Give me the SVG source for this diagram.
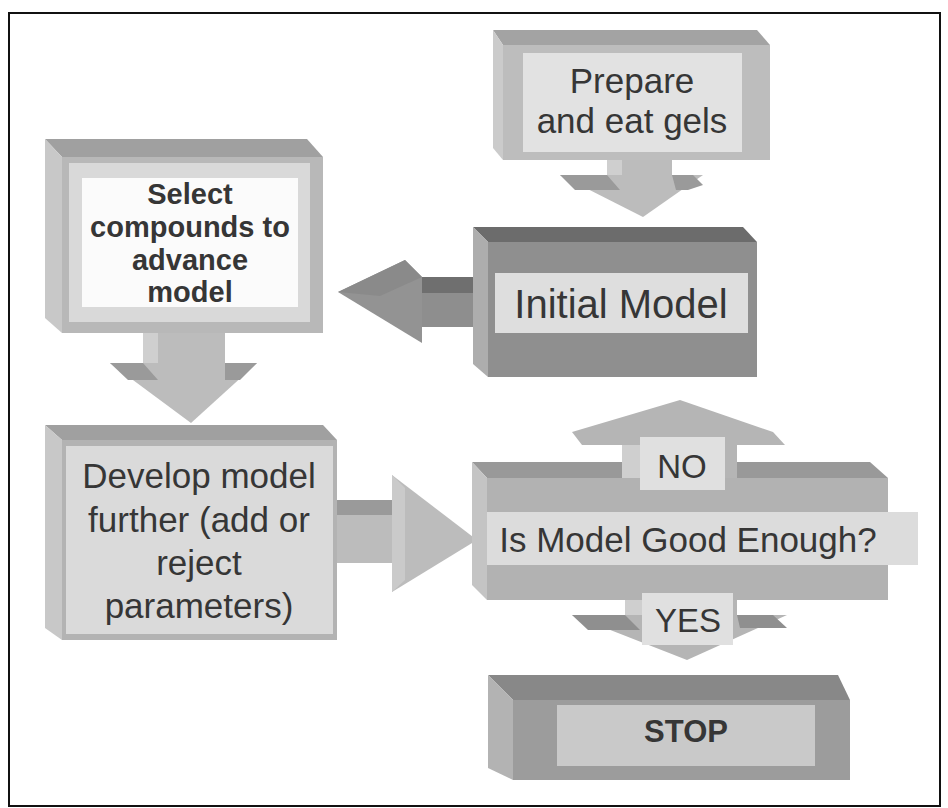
<svg xmlns="http://www.w3.org/2000/svg" width="948" height="808" viewBox="0 0 948 808">
<style>
text{font-family:"Liberation Sans",Arial,sans-serif;fill:#363636;text-anchor:middle}
.b{font-weight:bold}
</style>
<rect x="0" y="0" width="948" height="808" fill="#ffffff"/>
<rect x="9" y="13" width="931" height="793" fill="none" stroke="#111" stroke-width="2"/>

<g id="connectors">
  <!-- Prepare -> Initial Model -->
  <g id="arrow-prepare-initial">
    <rect x="607" y="158" width="15" height="18" fill="#cfcfcf"/>
    <rect x="622" y="158" width="50" height="18" fill="#bcbcbc"/>
    <polygon points="560,175 703,175 643,217" fill="#bcbcbc"/>
    <polygon points="560,175 607,175 620,190 575,190" fill="#9a9a9a"/>
    <polygon points="672,175 693,175 703,185 688,190 676,190" fill="#9a9a9a"/>
  </g>
  <!-- Initial Model -> Select -->
  <g id="arrow-initial-select">
    <polygon points="422,277 474,277 488,293 422,293" fill="#6f6f6f"/>
    <rect x="422" y="293" width="66" height="34" fill="#8e8e8e"/>
    <polygon points="338,292 405,260 422,277 422,343" fill="#939393"/>
    <polygon points="338,292 405,260 422,277 380,296" fill="#8a8a8a"/>
  </g>
  <!-- Select -> Develop -->
  <g id="arrow-select-develop">
    <rect x="143" y="333" width="15" height="32" fill="#cfcfcf"/>
    <rect x="158" y="333" width="67" height="32" fill="#bcbcbc"/>
    <polygon points="110,363 257,363 191,423" fill="#bcbcbc"/>
    <polygon points="110,363 143,363 158,380 128,380" fill="#9a9a9a"/>
    <polygon points="225,363 257,363 240,380 225,380" fill="#9a9a9a"/>
  </g>
  <!-- Develop -> Decision -->
  <g id="arrow-develop-decision">
    <polygon points="337,500 392,500 405,515 337,515" fill="#9a9a9a"/>
    <rect x="337" y="515" width="60" height="48" fill="#bcbcbc"/>
    <polygon points="392,475 477,540 392,592" fill="#bcbcbc"/>
    <polygon points="392,475 405,488 405,580 392,592" fill="#cacaca"/>
  </g>
  <!-- Decision NO (up) -->
  <g id="arrow-no">
    <rect x="622" y="444" width="18" height="36" fill="#cfcfcf"/>
    <rect x="640" y="444" width="97" height="36" fill="#b5b5b5"/>
    <polygon points="572,432 680,400 773,432 785,445 582,445" fill="#b5b5b5"/>
  </g>
  <!-- Decision YES (down) -->
  <g id="arrow-yes">
    <rect x="625" y="598" width="17" height="20" fill="#cfcfcf"/>
    <rect x="642" y="598" width="95" height="20" fill="#b5b5b5"/>
    <polygon points="572,615 787,615 687,660" fill="#b5b5b5"/>
    <polygon points="572,615 625,615 640,630 588,630" fill="#8f8f8f"/>
    <polygon points="737,615 773,615 787,628 740,628" fill="#8f8f8f"/>
  </g>
</g>

<g id="prepare">
  <polygon points="493,30 757,30 770,45 503,45" fill="#a3a3a3"/>
  <polygon points="493,30 503,45 503,160 493,148" fill="#cbcbcb"/>
  <rect x="503" y="45" width="267" height="115" fill="#bdbdbd"/>
  <rect x="523" y="53" width="219" height="99" fill="#e2e2e2"/>
  <text x="632" y="93" font-size="35">Prepare</text>
  <text x="632" y="133" font-size="35">and eat gels</text>
</g>

<g id="initial-model">
  <polygon points="473,227 743,227 757,242 488,242" fill="#6c6c6c"/>
  <polygon points="473,227 488,242 488,377 473,364" fill="#adadad"/>
  <rect x="488" y="242" width="269" height="135" fill="#8f8f8f"/>
  <rect x="495" y="273" width="253" height="60" fill="#dedede"/>
  <text x="621" y="318" font-size="40">Initial Model</text>
</g>

<g id="select">
  <polygon points="45,139 307,139 323,157 62,157" fill="#a0a0a0"/>
  <polygon points="45,139 62,157 62,333 45,318" fill="#c8c8c8"/>
  <rect x="62" y="157" width="261" height="176" fill="#b8b8b8"/>
  <rect x="69" y="163" width="241" height="159" fill="#d9d9d9"/>
  <rect x="82" y="178" width="216" height="129" fill="#fbfbfb"/>
  <text class="b" x="190" y="204" font-size="29">Select</text>
  <text class="b" x="190" y="237" font-size="29">compounds to</text>
  <text class="b" x="190" y="270" font-size="29">advance</text>
  <text class="b" x="190" y="302" font-size="29">model</text>
</g>

<g id="develop">
  <polygon points="45,425 323,425 337,440 62,440" fill="#a0a0a0"/>
  <polygon points="45,425 62,440 62,640 45,628" fill="#c8c8c8"/>
  <rect x="62" y="440" width="275" height="200" fill="#b3b3b3"/>
  <rect x="66" y="446" width="267" height="188" fill="#dadada"/>
  <text x="199" y="488" font-size="35">Develop model</text>
  <text x="199" y="532" font-size="35">further (add or</text>
  <text x="199" y="575" font-size="35">reject</text>
  <text x="199" y="618" font-size="35">parameters)</text>
</g>

<g id="decision">
  <polygon points="472,462 622,462 622,478 487,478" fill="#999999"/>
  <polygon points="737,462 870,462 888,478 737,478" fill="#999999"/>
  <polygon points="472,462 487,478 487,600 472,585" fill="#c4c4c4"/>
  <rect x="487" y="478" width="401" height="122" fill="#b2b2b2"/>
  <rect x="487" y="512" width="431" height="53" fill="#dcdcdc"/>
  <rect x="640" y="437" width="85" height="53" fill="#e0e0e0"/>
  <rect x="642" y="593" width="91" height="52" fill="#e0e0e0"/>
  <text x="682" y="478" font-size="33">NO</text>
  <text x="688" y="552" font-size="35">Is Model Good Enough?</text>
  <text x="688" y="632" font-size="33">YES</text>
</g>

<g id="stop">
  <polygon points="488,675 838,675 850,700 513,700" fill="#888888"/>
  <polygon points="488,675 513,700 513,780 488,768" fill="#b3b3b3"/>
  <rect x="513" y="700" width="337" height="80" fill="#9c9c9c"/>
  <rect x="557" y="705" width="258" height="61" fill="#c9c9c9"/>
  <text class="b" x="686" y="742" font-size="31">STOP</text>
</g>
</svg>
